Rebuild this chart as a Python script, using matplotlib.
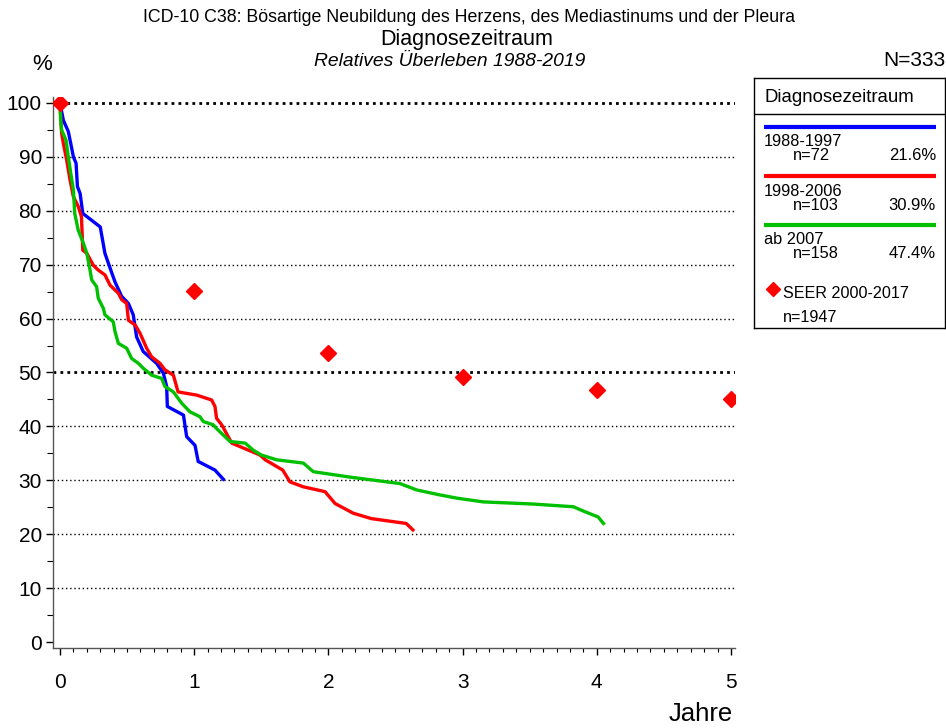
import matplotlib
matplotlib.use("Agg")
import matplotlib.pyplot as plt
from matplotlib.ticker import MultipleLocator

plt.rcParams['font.family'] = ['Liberation Sans', 'DejaVu Sans']

# ---- data ----
t_b = [0, 0.025, 0.062, 0.08, 0.10, 0.12, 0.13, 0.15, 0.17, 0.30, 0.335, 0.37, 0.41, 0.46, 0.51,
       0.546, 0.571, 0.62, 0.72, 0.77, 0.795, 0.80, 0.92, 0.944, 1.006, 1.03, 1.155, 1.217]
s_b = [100, 96.8, 94.7, 92.5, 90.0, 88.8, 84.5, 83.2, 79.5, 77.0, 72.1, 69.6, 66.8, 64.1, 62.8,
       60.7, 56.6, 53.9, 51.7, 49.9, 47.4, 43.7, 42.1, 38.1, 36.5, 33.5, 31.9, 30.2]

t_r = [0, 0.012, 0.025, 0.05, 0.075, 0.10, 0.136, 0.16, 0.17, 0.2, 0.248, 0.285, 0.335, 0.373,
       0.435, 0.46, 0.497, 0.51, 0.56, 0.596, 0.646, 0.683, 0.745, 0.782, 0.845, 0.88, 1.02, 1.13,
       1.155, 1.167, 1.205, 1.28, 1.49, 1.53, 1.66, 1.714, 1.813, 1.975, 2.05, 2.185, 2.32, 2.58, 2.63]
s_r = [100, 94.4, 92.5, 89.4, 85.7, 82.6, 80.8, 78.9, 72.7, 72.1, 69.9, 69.0, 68.1, 66.2,
       64.7, 63.5, 62.8, 59.7, 58.8, 57.3, 54.5, 52.9, 51.7, 50.5, 49.5, 46.4, 45.8, 44.9,
       43.7, 41.5, 40.3, 36.9, 34.7, 33.8, 31.9, 29.7, 28.8, 27.9, 25.7, 23.9, 22.9, 22.0, 20.8]

t_g = [0, 0.005, 0.012, 0.045, 0.062, 0.08, 0.10, 0.11, 0.136, 0.174, 0.2, 0.224, 0.236, 0.273,
       0.285, 0.323, 0.335, 0.397, 0.41, 0.435, 0.497, 0.534, 0.584, 0.62, 0.683, 0.758, 0.782,
       0.845, 0.907, 0.969, 1.043, 1.068, 1.142, 1.167, 1.267, 1.38, 1.44, 1.50, 1.615, 1.813,
       1.888, 2.16, 2.533, 2.66, 2.83, 2.956, 3.154, 3.527, 3.825, 3.91, 4.01, 4.05]
s_g = [100, 96.8, 95.0, 93.1, 90.0, 87.0, 83.9, 79.5, 76.4, 74.0, 72.1, 69.0, 67.2, 65.9,
       63.8, 61.9, 60.7, 59.4, 57.6, 55.4, 54.5, 52.6, 51.7, 50.8, 49.5, 48.9, 47.4,
       46.4, 44.3, 42.7, 41.8, 40.9, 40.3, 39.6, 37.2, 36.9, 35.6, 34.7, 33.8, 33.2,
       31.6, 30.6, 29.4, 28.2, 27.3, 26.7, 26.0, 25.6, 25.1, 24.2, 23.2, 22.0]

seer_years = [0, 1, 2, 3, 4, 5]
seer_vals = [100, 65.1, 53.6, 49.2, 46.8, 45.1]

groups = ["1988-1997", "1998-2006", "ab 2007"]
group_n = ["n=72", "n=103", "n=158"]
group_pct = ["21.6%", "30.9%", "47.4%"]
colors = ["#0000ff", "#ff0000", "#00c000"]

W, H = 946, 728
fig = plt.figure(figsize=(W / 100, H / 100), dpi=100)

def px(x, y):
    return x / W, 1 - y / H

ax = fig.add_axes([53 / W, 1 - 648 / H, (735 - 53) / W, (648 - 97) / H])
ax.set_xlim(-0.052, 5.03)
ax.set_ylim(-1.1, 101.1)

# grid
for g in range(10, 101, 10):
    thick = g in (50, 100)
    ax.axhline(g, color='black', lw=2.0 if thick else 1.0,
               ls=(0, (1, 1.5)) if thick else (0, (1, 2)), zorder=1)

for t, s, c in zip([t_b, t_r, t_g], [s_b, s_r, s_g], colors):
    ax.plot(t, s, color=c, lw=2.4, solid_joinstyle='round', zorder=3)

ax.plot(seer_years, seer_vals, ls='none', marker='D', ms=8.5, color='#ff0000', zorder=4)

for sp in ['top', 'right']:
    ax.spines[sp].set_visible(False)
for sp in ['left', 'bottom']:
    ax.spines[sp].set_color('#555555')
    ax.spines[sp].set_linewidth(1.0)

ax.xaxis.set_major_locator(MultipleLocator(1))
ax.xaxis.set_minor_locator(MultipleLocator(0.1))
ax.yaxis.set_major_locator(MultipleLocator(10))
ax.yaxis.set_minor_locator(MultipleLocator(5))
ax.tick_params(axis='x', which='major', length=5, width=1, labelsize=15, pad=13, direction='out')
ax.tick_params(axis='x', which='minor', length=3, width=0.8, direction='out')
ax.tick_params(axis='y', which='major', length=5, width=1, labelsize=15, pad=3, direction='out')
ax.tick_params(axis='y', which='minor', length=4, width=0.8, direction='out')

# titles
fig.text(*px(469, 18), "ICD-10 C38: Bösartige Neubildung des Herzens, des Mediastinums und der Pleura",
         ha='center', va='center', fontsize=12.8)
fig.text(*px(467, 40), "Diagnosezeitraum", ha='center', va='center', fontsize=15.5)
fig.text(*px(450, 61), "Relatives Überleben 1988-2019", ha='center', va='center', fontsize=13.9,
         style='italic')
fig.text(*px(42, 64), "%", ha='center', va='center', fontsize=16)
fig.text(*px(945, 61), "N=333", ha='right', va='center', fontsize=15)
fig.text(*px(701, 714), "Jahre", ha='center', va='center', fontsize=18.5)

# legend box
lax = fig.add_axes([754 / W, 1 - 328 / H, (945 - 754) / W, (328 - 78) / H])
lax.set_xlim(754, 945)
lax.set_ylim(328, 78)
lax.set_xticks([])
lax.set_yticks([])
for sp in lax.spines.values():
    sp.set_linewidth(1.0)
    sp.set_color('black')
lax.axhline(114, color='black', lw=1.0)
lax.text(764, 98, "Diagnosezeitraum", ha='left', va='center', fontsize=13.4)
line_y = [127, 176, 225]
for i in range(3):
    y0 = line_y[i]
    lax.plot([764, 936], [y0, y0], color=colors[i], lw=3, solid_capstyle='butt')
    lax.text(764, y0 + 15, groups[i], ha='left', va='center', fontsize=11.8)
    lax.text(793, y0 + 29, group_n[i], ha='left', va='center', fontsize=11.8)
    lax.text(936, y0 + 29, group_pct[i], ha='right', va='center', fontsize=12)
lax.plot([773], [289], ls='none', marker='D', ms=7, color='#ff0000')
lax.text(783, 294, "SEER 2000-2017", ha='left', va='center', fontsize=11.6)
lax.text(783, 318, "n=1947", ha='left', va='center', fontsize=11.6)

fig.savefig("out.png", dpi=100)
